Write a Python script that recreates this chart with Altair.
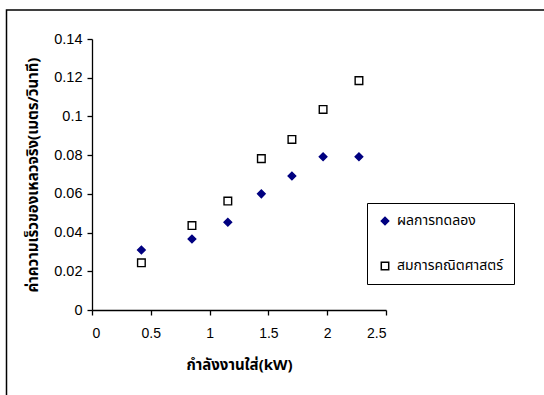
import altair as alt
import pandas as pd

# Input power (kW) and fluid velocity (m/s)
power_kw = [0.42, 0.85, 1.155, 1.44, 1.70, 1.965, 2.27]
measured = [0.031, 0.0367, 0.0453, 0.060, 0.0692, 0.0792, 0.0792]
model = [0.0244, 0.0436, 0.0563, 0.0782, 0.0881, 0.1036, 0.1185]
series_names = ["ผลการทดลอง", "สมการคณิตศาสตร์"]

rows = []
for name, vals in zip(series_names, [measured, model]):
    for p, v in zip(power_kw, vals):
        rows.append({"power": p, "velocity": v, "series": name})
df = pd.DataFrame(rows)

W, H = 294, 271
THAI = "Tahoma, 'Noto Sans Thai', 'Liberation Sans', sans-serif"
NUM = "'Liberation Sans', Arial, sans-serif"

legend = alt.Legend(
    title=None,
    orient="none",
    legendX=275,
    legendY=164,
    padding=11,
    strokeColor="black",
    fillColor="white",
    labelFont=THAI,
    labelFontSize=14,
    labelColor="black",
    symbolSize=55,
    rowPadding=31,
    labelOffset=5,
)

points = alt.Chart(df).mark_point(opacity=1, strokeWidth=1.4, size=58).encode(
    x=alt.X(
        "power:Q",
        scale=alt.Scale(domain=[0, 2.5], nice=False, zero=True),
        axis=alt.Axis(
            title="กำลังงานใส่(kW)",
            values=[0, 0.5, 1, 1.5, 2, 2.5],
            format="~g",
            labelPadding=11,
            titlePadding=17,
        ),
    ),
    y=alt.Y(
        "velocity:Q",
        scale=alt.Scale(domain=[0, 0.14], nice=False),
        axis=alt.Axis(
            title="ค่าความเร็วของเหลวจริง(เมตร/วินาที)",
            values=[0, 0.02, 0.04, 0.06, 0.08, 0.1, 0.12, 0.14],
            format=".2~f",
            labelPadding=5,
            labelFontSize=14.5,
            titlePadding=13,
        ),
    ),
    shape=alt.Shape(
        "series:N",
        scale=alt.Scale(domain=series_names, range=["diamond", "square"]),
        legend=legend,
    ),
    fill=alt.Fill(
        "series:N",
        scale=alt.Scale(domain=series_names, range=["#000080", "white"]),
        legend=legend,
    ),
    stroke=alt.Stroke(
        "series:N",
        scale=alt.Scale(domain=series_names, range=["#000080", "black"]),
        legend=legend,
    ),
)

# outer chart border
frame = alt.Chart(pd.DataFrame({"k": [0]})).mark_rect(
    fill=None, stroke="black", strokeWidth=1.5, clip=False
).encode(
    x=alt.value(-85.5),
    x2=alt.value(W + 300),
    y=alt.value(-29),
    y2=alt.value(H + 300),
)

chart = (
    alt.layer(frame, points)
    .properties(
        width=W,
        height=H,
        autosize=alt.AutoSizeParams(type="none"),
        padding={"left": 92, "top": 39, "right": 544 - 92 - W, "bottom": 395 - 39 - H},
        background="white",
    )
    .configure_view(stroke=None)
    .configure_axis(
        grid=False,
        domainColor="black",
        domainWidth=1.3,
        tickColor="black",
        tickWidth=1.3,
        tickSize=5,
        labelColor="black",
        labelFont=NUM,
        labelFontSize=14,
        titleColor="black",
        titleFont=THAI,
        titleFontSize=15,
        titleFontWeight="bold",
    )
)

chart.save("out.html", embed_options={"renderer": "svg", "actions": False})
